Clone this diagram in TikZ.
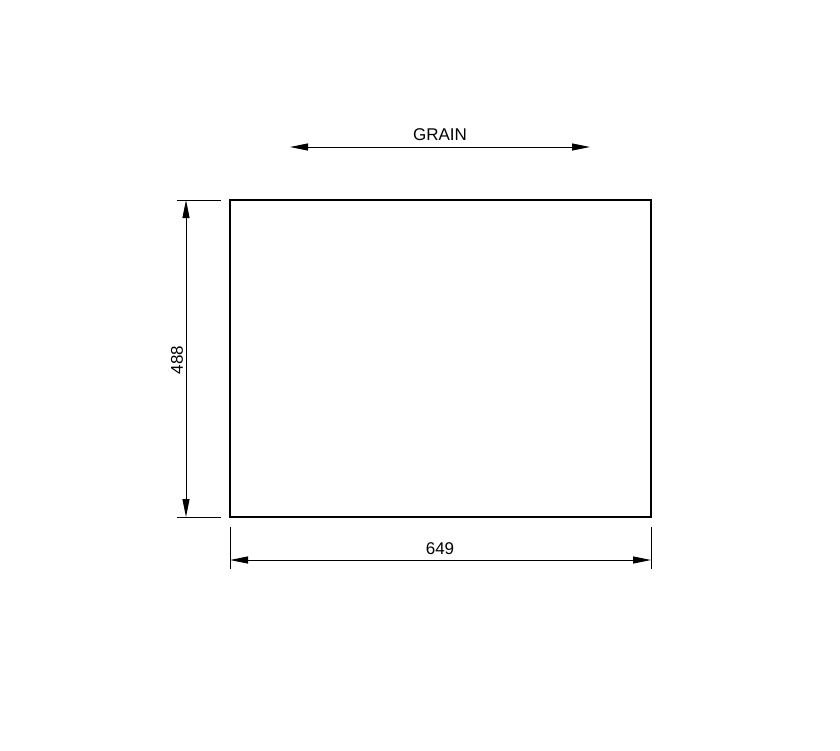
\documentclass[tikz,border=0pt]{standalone}
\usepackage{fontspec}
\setmainfont{Liberation Sans}
\usetikzlibrary{arrows.meta}
\begin{document}
\begin{tikzpicture}[x=1pt,y=-1pt,
  dimline/.style={line width=1pt,{Triangle[length=18pt,width=7pt]}-{Triangle[length=18pt,width=7pt]}},
  extline/.style={line width=1pt},
  dimtext/.style={font=\fontsize{17}{19}\selectfont,inner sep=0pt}]
\useasboundingbox (0,0) rectangle (840,750);
\node (panel) [draw, line width=2pt, minimum width=421pt, minimum height=317pt, inner sep=0pt] at (440.5,358.5) {};
% vertical dimension
\coordinate (e1a) at (177,200); \coordinate (e1b) at (221,200);
\coordinate (e2a) at (177,517); \coordinate (e2b) at (221,517);
\draw[extline] (e1a) -- (e1b);
\draw[extline] (e2a) -- (e2b);
\coordinate (v1) at (186,200); \coordinate (v2) at (186,517);
\draw[dimline] (v1) -- (v2);
\node (h488) [dimtext, rotate=90] at (177,360) {488};
% horizontal dimension
\coordinate (f1a) at (230,527); \coordinate (f1b) at (230,569);
\coordinate (f2a) at (651,527); \coordinate (f2b) at (651,569);
\draw[extline] (f1a) -- (f1b);
\draw[extline] (f2a) -- (f2b);
\coordinate (d1) at (230,560); \coordinate (d2) at (651,560);
\draw[dimline] (d1) -- (d2);
\node (w649) [dimtext] at (440,549) {649};
% grain arrow
\coordinate (g1) at (290,147); \coordinate (g2) at (590,147);
\draw[dimline] (g1) -- (g2);
\node (grain) [dimtext] at (440,135) {GRAIN};
\end{tikzpicture}
\end{document}
